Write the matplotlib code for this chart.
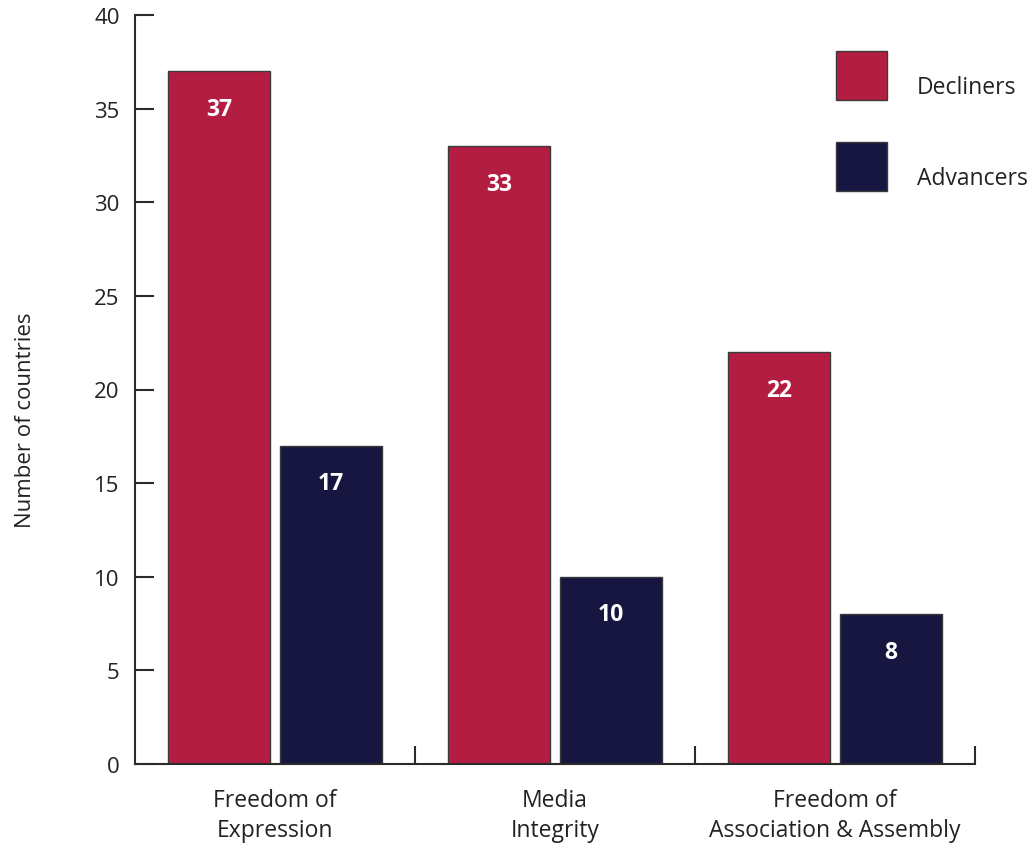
import numpy as np
import matplotlib
matplotlib.use('Agg')
import matplotlib.pyplot as plt
from matplotlib.patches import Rectangle

plt.rcParams['font.family'] = ['Open Sans', 'DejaVu Sans']

# data
categories = ['Freedom of\nExpression', 'Media\nIntegrity', 'Freedom of\nAssociation & Assembly']
series = ['Decliners', 'Advancers']
decliners = [37, 33, 22]
advancers = [17, 10, 8]

red = '#b31d42'
navy = '#161641'
edge = '#3a3a3a'
axis_col = '#2b2b2b'
txt = '#222222'

fig = plt.figure(figsize=(10.31, 8.45), dpi=100)
ax = fig.add_axes([135 / 1031, 1 - 765 / 845, 840 / 1031, 749 / 845])

x = np.arange(len(categories))
w = 0.364
b1 = ax.bar(x + 0.118, decliners, width=w, align='edge', color=red, edgecolor=edge, linewidth=1)
b2 = ax.bar(x + 0.518, advancers, width=w, align='edge', color=navy, edgecolor=edge, linewidth=1)

# value labels inside the bars
for bars, vals in [(b1, decliners), (b2, advancers)]:
    for r, v in zip(bars, vals):
        ax.annotate(str(v), (r.get_x() + r.get_width() / 2, v), xytext=(0, -27),
                    textcoords='offset points', ha='center', va='center',
                    color='white', fontsize=16.5, fontweight='bold')

ax.set_xlim(0, 3)
ax.set_ylim(0, 40)
ax.set_yticks(np.arange(0, 41, 5))
ax.set_xticks([1, 2, 3])
ax.set_xticklabels([])
ax.tick_params(axis='y', direction='in', length=14, width=1.5, color=axis_col,
               labelsize=16, pad=11, labelcolor=txt)
ax.tick_params(axis='x', direction='in', length=13, width=1.5, color=axis_col)

# category labels centred under each group
for i, c in enumerate(categories):
    ax.annotate(c, (i + 0.5, 0), xytext=(0, -17), textcoords='offset points',
                ha='center', va='top', fontsize=16.5, color=txt, linespacing=1.35,
                annotation_clip=False)

for s in ['top', 'right']:
    ax.spines[s].set_visible(False)
for s in ['left', 'bottom']:
    ax.spines[s].set_linewidth(1.5)
    ax.spines[s].set_color(axis_col)

ax.set_ylabel('Number of countries', fontsize=16, color=txt)
ax.yaxis.set_label_coords(-0.118, 0.46)

# legend drawn by hand: big square swatches with labels to the right
for k, (name, col) in enumerate(zip(series, [red, navy])):
    top = 52 + 91 * k
    fig.add_artist(Rectangle((836 / 1031, 1 - (top + 49) / 845), 51 / 1031, 49 / 845,
                             transform=fig.transFigure, facecolor=col, edgecolor=edge,
                             linewidth=1))
    fig.text(917 / 1031, 1 - (top + 36) / 845, name, ha='left', va='center',
             fontsize=16.5, color=txt)

fig.savefig('out.png', dpi=100)
